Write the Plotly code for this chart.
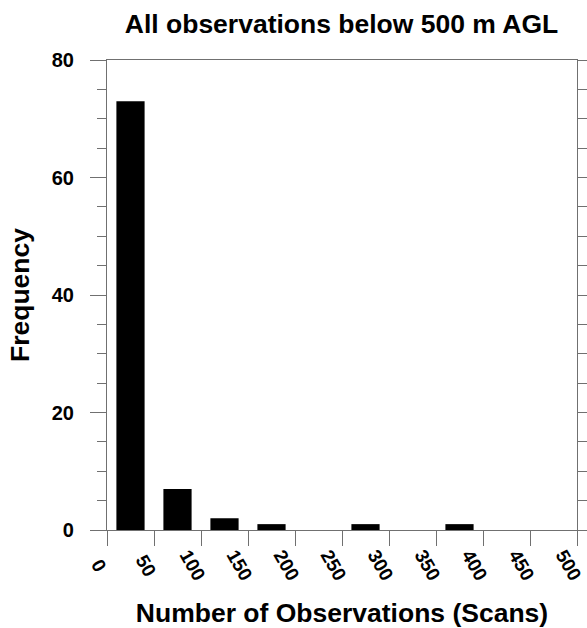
import plotly.graph_objects as go

bin_centers = [25, 75, 125, 175, 225, 275, 325, 375, 425, 475]
frequency = [73, 7, 2, 1, 0, 1, 0, 1, 0, 0]
x_ticks = [0, 50, 100, 150, 200, 250, 300, 350, 400, 450, 500]
y_ticks = [0, 20, 40, 60, 80]

FONT = "Liberation Sans, Arial, Helvetica, sans-serif"
AX = "#707070"
W, H = 587, 628
L, R, T, B = 107, 10, 60, 98
plot_h = H - T - B

fig = go.Figure(go.Bar(
    x=bin_centers, y=frequency, width=30,
    marker=dict(color="black", line=dict(width=0)),
))

# rotated x tick labels, centred slightly left of and below each tick
for v in x_ticks:
    fig.add_annotation(
        x=v, xref="x", y=-35 / plot_h, yref="paper",
        text=f"<b>{v}</b>", showarrow=False, textangle=60,
        xanchor="center", yanchor="middle", xshift=-8,
        font=dict(family=FONT, size=19, color="black"),
    )

fig.update_layout(
    width=W, height=H,
    margin=dict(l=L, r=R, t=T, b=B),
    plot_bgcolor="white", paper_bgcolor="white",
    showlegend=False,
    title=dict(text="<b>All observations below 500 m AGL</b>", x=341.5 / W, xanchor="center",
               y=1 - 24 / H, yanchor="middle", font=dict(family=FONT, size=26.5, color="black")),
    font=dict(family=FONT, color="black"),
)

fig.update_xaxes(
    range=[0, 500], tickvals=x_ticks, showticklabels=False,
    ticks="outside", ticklen=15, tickcolor=AX, tickwidth=1.2,
    showline=True, linecolor=AX, linewidth=1.2, mirror=True, showgrid=False, zeroline=False,
    automargin=False,
    title=dict(text="<b>Number of Observations (Scans)</b>", font=dict(family=FONT, size=26.5, color="black"), standoff=59),
)
fig.update_yaxes(
    range=[0, 80], tickvals=y_ticks, ticktext=[f"<b>{v}</b>" for v in y_ticks],
    ticks="outside", ticklen=16, tickcolor=AX, tickwidth=1.2, ticklabelstandoff=12,
    minor=dict(dtick=5, ticks="outside", ticklen=9, tickcolor=AX, tickwidth=1, showgrid=False),
    showline=True, linecolor=AX, linewidth=1.2, mirror="ticks", showgrid=False, zeroline=False,
    automargin=False,
    tickfont=dict(family=FONT, size=20, color="black"),
    title=dict(text="<b>Frequency</b>", font=dict(family=FONT, size=26.5, color="black"), standoff=14),
)

# remove the browser's default 8px body margin so the figure fills the window exactly
fig.write_html(
    "out.html",
    config={"displayModeBar": False},
    post_script="document.body.style.margin='0';document.body.style.overflow='hidden';",
)
